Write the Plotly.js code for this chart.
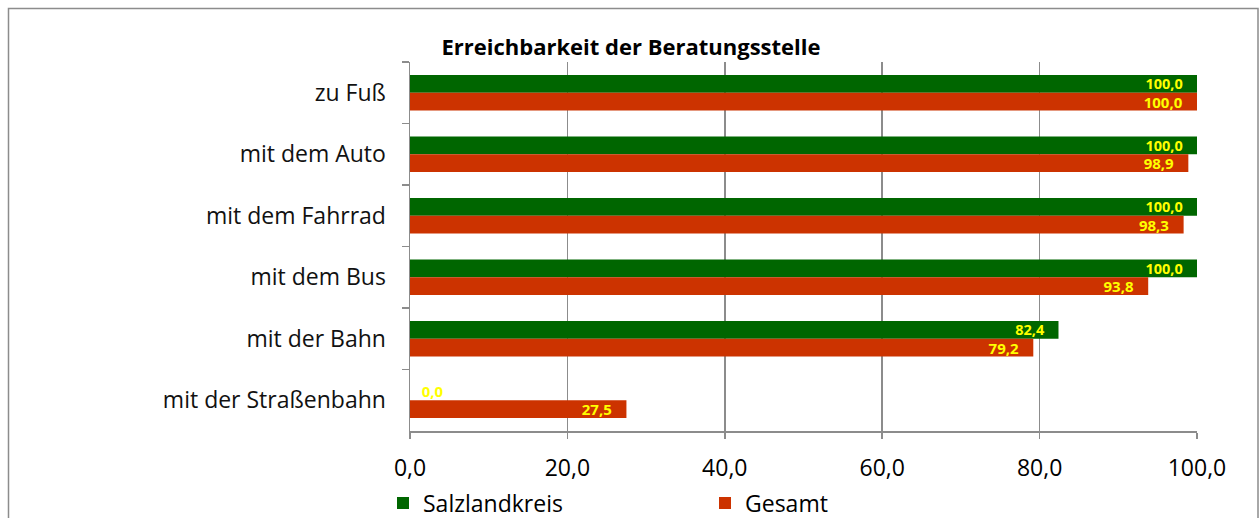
<!DOCTYPE html>
<html>
<head>
<meta charset="utf-8">
<script src="https://cdn.plot.ly/plotly-3.0.1.min.js"></script>
<style>
html,body{margin:0;padding:0;background:#fff;}
#chart{width:1260px;height:518px;}
</style>
</head>
<body>
<div id="chart"></div>
<script>
const categories = ["zu Fuß", "mit dem Auto", "mit dem Fahrrad", "mit dem Bus", "mit der Bahn", "mit der Straßenbahn"];
const salzlandkreis = [100.0, 100.0, 100.0, 100.0, 82.4, 0.0];
const gesamt = [100.0, 98.9, 98.3, 93.8, 79.2, 27.5];
const seriesNames = ["Salzlandkreis", "Gesamt"];
const xTicks = [0, 20, 40, 60, 80, 100];

const FONT = "'Open Sans', sans-serif";
const NB = "\u00a0";
const fmt = v => v.toFixed(1).replace(".", ",");

function barTrace(name, values, color, size) {
  const tf = {family: FONT, size: size, color: "#FFFF00", weight: "bold"};
  return {
    type: "bar", orientation: "h", name: name,
    y: categories, x: values,
    marker: {color: color},
    text: values.map(v => v === 0 ? "" : fmt(v) + NB + NB + NB),
    textposition: "inside", insidetextanchor: "end",
    textfont: tf, insidetextfont: tf, outsidetextfont: tf,
    constraintext: "none", cliponaxis: false, hoverinfo: "skip"
  };
}

// zero-valued bars still get their label, placed just right of the axis
const zeroIdx = salzlandkreis.map((v, i) => v === 0 ? i : -1).filter(i => i >= 0);
const zeroLabels = {
  type: "scatter", mode: "text", showlegend: false, hoverinfo: "skip",
  x: zeroIdx.map(i => salzlandkreis[i]),
  y: zeroIdx.map(i => categories[i]),
  text: zeroIdx.map(i => NB + NB + NB + fmt(salzlandkreis[i])),
  textposition: "top right",
  textfont: {family: FONT, size: 15, color: "#FFFF00", weight: "bold"},
  cliponaxis: false
};

const traces = [
  barTrace(seriesNames[0], salzlandkreis, "#006600", 14.5),
  barTrace(seriesNames[1], gesamt, "#CC3300", 15),
  zeroLabels
];

const L = 410, R = 63, T = 62, B = 87;
const W = 1260 - L - R, H = 518 - T - B;
const px = v => (v - L) / W;
const py = v => (518 - B - v) / H;

const layout = {
  width: 1260, height: 518,
  margin: {l: L, r: R, t: T, b: B, pad: 0, autoexpand: false},
  paper_bgcolor: "#fff", plot_bgcolor: "#fff",
  separators: ",.",
  barmode: "group", bargap: 0.42, bargroupgap: 0,
  font: {family: FONT, color: "#000"},
  title: {
    text: "<b>Erreichbarkeit der Beratungsstelle</b>",
    font: {family: FONT, size: 22, color: "#000"},
    x: 631 / 1260, xref: "container", xanchor: "center",
    y: 1 - 47 / 518, yref: "container", yanchor: "middle"
  },
  xaxis: {
    range: [0, 100], tickvals: xTicks, tickformat: ".1f",
    showgrid: true, gridcolor: "#8c8c8c", gridwidth: 1.5,
    showline: true, linecolor: "#8c8c8c", linewidth: 1.5,
    ticks: "outside", ticklen: 6, tickcolor: "#8c8c8c", tickwidth: 1.5,
    tickfont: {family: FONT, size: 23, color: "#000"},
    zeroline: false, fixedrange: true, ticklabelstandoff: 10, automargin: false
  },
  yaxis: {
    type: "category", autorange: "reversed",
    showline: true, linecolor: "#8c8c8c", linewidth: 1.5,
    ticks: "outside", tickson: "boundaries", ticklen: 7, tickcolor: "#8c8c8c", tickwidth: 1.5,
    tickfont: {family: FONT, size: 23, color: "#111"},
    showgrid: false, zeroline: false, fixedrange: true, ticklabelstandoff: 18, automargin: false
  },
  showlegend: true,
  legend: {
    orientation: "h", x: 383 / 1260, y: 1 - 503 / 518, xanchor: "left", yanchor: "middle",
    xref: "container", yref: "container",
    font: {family: FONT, size: 23, color: "#000"},
    entrywidth: 277, entrywidthmode: "pixels",
    itemwidth: 30, traceorder: "normal", bgcolor: "rgba(0,0,0,0)"
  },
  shapes: [
    {type: "rect", xref: "paper", yref: "paper",
     x0: px(8.5), x1: px(1258), y0: py(540), y1: py(8.5),
     line: {color: "#8c8c8c", width: 1.5}, fillcolor: "rgba(0,0,0,0)", layer: "below"}
  ]
};

Plotly.newPlot("chart", traces, layout, {displayModeBar: false, staticPlot: true});
</script>
</body>
</html>
